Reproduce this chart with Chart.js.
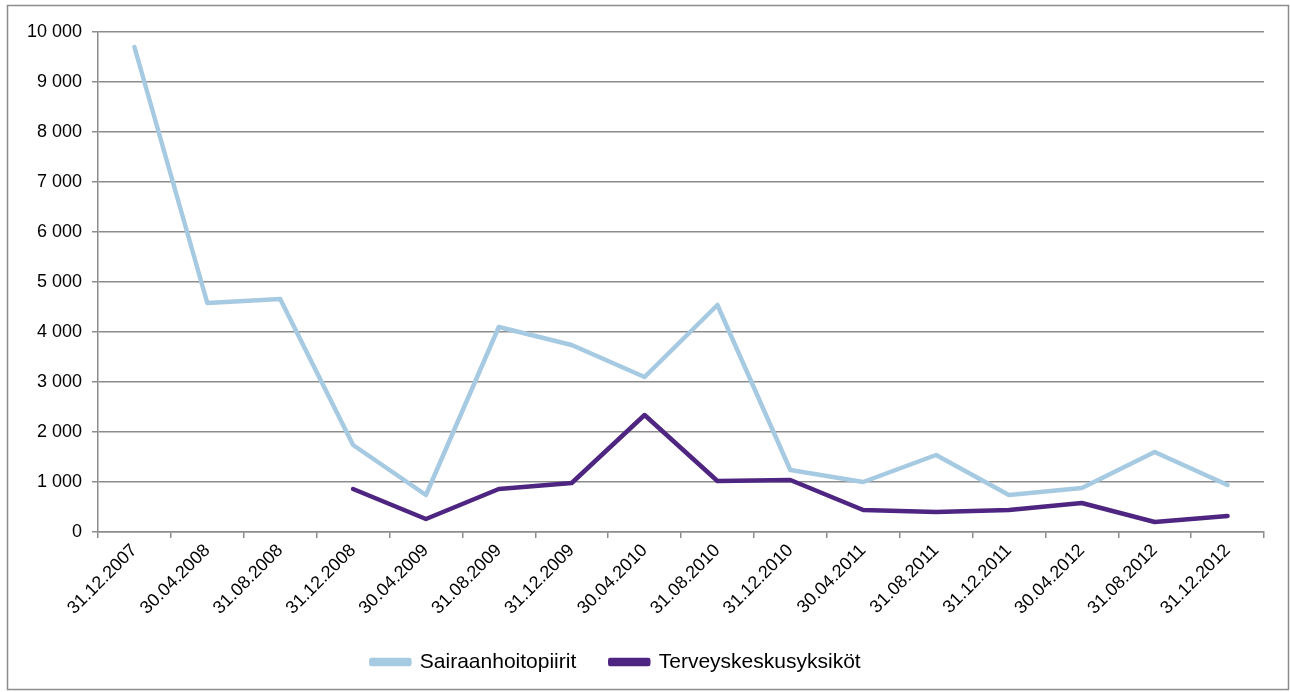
<!DOCTYPE html>
<html>
<head>
<meta charset="utf-8">
<script src="https://cdn.jsdelivr.net/npm/chart.js@4/dist/chart.umd.min.js"></script>
<style>
  html, body { margin: 0; padding: 0; background: #fff; }
  #wrap { width: 1290px; height: 692px; }
</style>
</head>
<body>
<div id="wrap"><canvas id="myChart" width="1290" height="692"></canvas></div>
<script>
var dates = ["31.12.2007", "30.04.2008", "31.08.2008", "31.12.2008", "30.04.2009", "31.08.2009",
  "31.12.2009", "30.04.2010", "31.08.2010", "31.12.2010", "30.04.2011", "31.08.2011",
  "31.12.2011", "30.04.2012", "31.08.2012", "31.12.2012"];
var sairaanhoitopiirit = [9700, 4580, 4660, 1740, 740, 4100, 3740, 3100, 4540, 1240, 1000, 1540, 740, 880, 1600, 940];
var terveyskeskus = [null, null, null, 860, 260, 860, 980, 2340, 1020, 1040, 440, 400, 440, 580, 200, 320];

var lightBlue = "#a6cae2";
var purple = "#4e2681";
var gridGray = "#8c8c8c";
var fontFamily = "Liberation Sans, Arial, sans-serif";

// outer frame like the original sheet chart
var framePlugin = {
  id: "frame",
  beforeDraw: function(chart) {
    var ctx = chart.ctx;
    ctx.save();
    ctx.fillStyle = "#fff";
    ctx.fillRect(0, 0, chart.width, chart.height);
    ctx.strokeStyle = "#8c8c8c";
    ctx.lineWidth = 1.5;
    ctx.strokeRect(7.5, 5.5, 1281, 684);
    ctx.restore();
  },
  // move the legend a bit to the left, as in the original
  afterLayout: function(chart) {
    var lg = chart.legend;
    if (lg) {
      lg.left -= 20;
      lg.right -= 20;
    }
  }
};

// thousands with a space, e.g. 10 000
function fmt(v) {
  return String(v).replace(/\B(?=(\d{3})+(?!\d))/g, " ");
}

new Chart("myChart", {
  type: "line",
  data: {
    labels: dates,
    datasets: [{
      label: "Sairaanhoitopiirit",
      data: sairaanhoitopiirit,
      borderColor: lightBlue,
      backgroundColor: lightBlue,
      borderWidth: 4.5,
      pointRadius: 0,
      tension: 0,
      borderJoinStyle: "round",
      borderCapStyle: "round"
    }, {
      label: "Terveyskeskusyksiköt",
      data: terveyskeskus,
      borderColor: purple,
      backgroundColor: purple,
      borderWidth: 4.5,
      pointRadius: 0,
      tension: 0,
      borderJoinStyle: "round",
      borderCapStyle: "round"
    }]
  },
  options: {
    responsive: false,
    animation: false,
    layout: { padding: { left: 8, right: 26, top: 32, bottom: 9.5 } },
    plugins: {
      tooltip: { enabled: false },
      legend: {
        position: "bottom",
        labels: {
          boxWidth: 38,
          boxHeight: 4,
          padding: 34,
          color: "#000",
          font: { family: fontFamily, size: 21 }
        }
      }
    },
    scales: {
      x: {
        offset: true,
        clip: false,
        grid: {
          drawOnChartArea: false,
          drawTicks: true,
          tickLength: 6,
          color: gridGray,
          lineWidth: 1.5,
          offset: true
        },
        border: { color: gridGray, width: 1.5 },
        ticks: {
          minRotation: 45,
          maxRotation: 45,
          autoSkip: false,
          padding: 2,
          color: "#000",
          font: { family: fontFamily, size: 18 }
        },
        afterFit: function(scale) { scale.height = 85.5; }
      },
      y: {
        min: 0,
        max: 10000,
        grid: {
          color: gridGray,
          lineWidth: 1.5,
          tickLength: 6
        },
        border: { color: gridGray, width: 1.5 },
        ticks: {
          stepSize: 1000,
          padding: 10,
          color: "#000",
          font: { family: fontFamily, size: 18 },
          callback: function(v) { return fmt(v); }
        },
        afterFit: function(scale) { scale.width = 90; }
      }
    }
  },
  plugins: [framePlugin]
});
</script>
</body>
</html>
